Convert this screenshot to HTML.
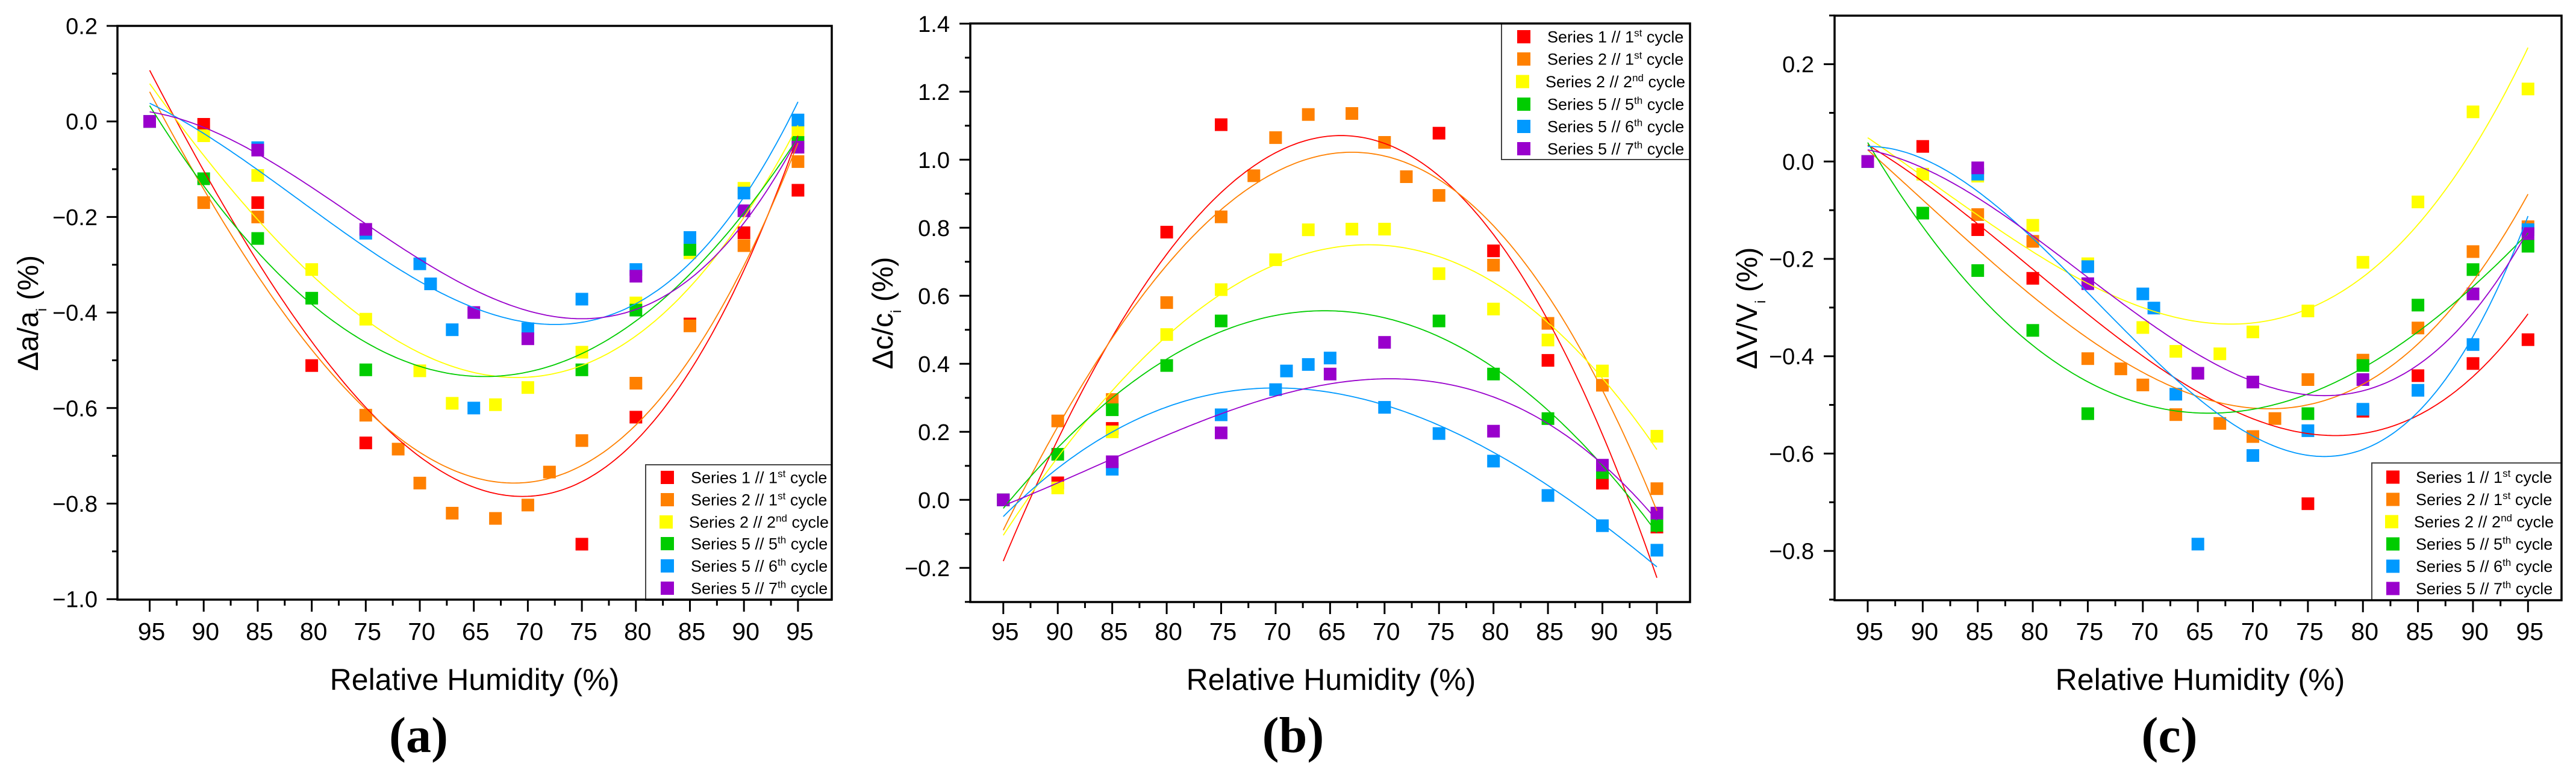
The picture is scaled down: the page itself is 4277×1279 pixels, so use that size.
<!DOCTYPE html>
<html><head><meta charset="utf-8">
<style>
html,body{margin:0;padding:0;background:#fff;}
svg{display:block;}
text{font-family:"Liberation Sans",sans-serif;fill:#000;}
.yt{font-size:38px;text-anchor:end;}
.xt{font-size:41px;text-anchor:middle;}
.ttl{font-size:50px;text-anchor:middle;}
.yl{font-size:48px;text-anchor:middle;}
.lg{font-size:27px;}
.cap{font-family:"Liberation Serif",serif;font-weight:bold;font-size:84px;text-anchor:middle;}
</style></head>
<body>
<svg id="g" width="4277" height="1279" viewBox="0 0 4277 1279" xmlns="http://www.w3.org/2000/svg">
<rect x="0" y="0" width="4277" height="1279" fill="#fff"/>
<g id="plots"></g>
<g id="legends">
<rect x="1072" y="772" width="309" height="225" fill="#fff" stroke="#444" stroke-width="2"/>
<rect x="2493" y="39" width="313" height="226" fill="#fff" stroke="#444" stroke-width="2"/>
<rect x="3938" y="769" width="315" height="228" fill="#fff" stroke="#444" stroke-width="2"/>
</g>
<g id="axes"></g>

<!-- Panel a text -->
<text class="yt" x="162" y="56.5">0.2</text>
<text class="yt" x="162" y="215.2">0.0</text>
<text class="yt" x="162" y="373.9">−0.2</text>
<text class="yt" x="162" y="532.6">−0.4</text>
<text class="yt" x="162" y="691.3">−0.6</text>
<text class="yt" x="162" y="850">−0.8</text>
<text class="yt" x="162" y="1008.7">−1.0</text>
<text class="xt" x="251.5" y="1063">95</text>
<text class="xt" x="341.2" y="1063">90</text>
<text class="xt" x="430.9" y="1063">85</text>
<text class="xt" x="520.6" y="1063">80</text>
<text class="xt" x="610.3" y="1063">75</text>
<text class="xt" x="700" y="1063">70</text>
<text class="xt" x="789.7" y="1063">65</text>
<text class="xt" x="879.4" y="1063">70</text>
<text class="xt" x="969.1" y="1063">75</text>
<text class="xt" x="1058.8" y="1063">80</text>
<text class="xt" x="1148.5" y="1063">85</text>
<text class="xt" x="1238.2" y="1063">90</text>
<text class="xt" x="1327.9" y="1063">95</text>
<text class="ttl" x="788" y="1146">Relative Humidity (%)</text>
<text class="yl" transform="translate(63,520) rotate(-90)">Δa/a<tspan font-size="24" dy="14">i</tspan><tspan dy="-14"> (%)</tspan></text>
<text class="cap" x="695" y="1249">(a)</text>

<!-- Panel b text -->
<text class="yt" x="1577" y="52.8">1.4</text>
<text class="yt" x="1577" y="165.8">1.2</text>
<text class="yt" x="1577" y="278.8">1.0</text>
<text class="yt" x="1577" y="391.8">0.8</text>
<text class="yt" x="1577" y="504.8">0.6</text>
<text class="yt" x="1577" y="617.8">0.4</text>
<text class="yt" x="1577" y="730.8">0.2</text>
<text class="yt" x="1577" y="843.8">0.0</text>
<text class="yt" x="1577" y="956.8">−0.2</text>
<text class="xt" x="1668.8" y="1063">95</text>
<text class="xt" x="1759.2" y="1063">90</text>
<text class="xt" x="1849.7" y="1063">85</text>
<text class="xt" x="1940.1" y="1063">80</text>
<text class="xt" x="2030.5" y="1063">75</text>
<text class="xt" x="2120.9" y="1063">70</text>
<text class="xt" x="2211.4" y="1063">65</text>
<text class="xt" x="2301.8" y="1063">70</text>
<text class="xt" x="2392.2" y="1063">75</text>
<text class="xt" x="2482.7" y="1063">80</text>
<text class="xt" x="2573.1" y="1063">85</text>
<text class="xt" x="2663.5" y="1063">90</text>
<text class="xt" x="2754" y="1063">95</text>
<text class="ttl" x="2210" y="1146">Relative Humidity (%)</text>
<text class="yl" transform="translate(1482,520) rotate(-90)">Δc/c<tspan font-size="24" dy="14">i</tspan><tspan dy="-14"> (%)</tspan></text>
<text class="cap" x="2147" y="1249">(b)</text>

<!-- Panel c text -->
<text class="yt" x="3012" y="120.1">0.2</text>
<text class="yt" x="3012" y="281.8">0.0</text>
<text class="yt" x="3012" y="443.5">−0.2</text>
<text class="yt" x="3012" y="605.2">−0.4</text>
<text class="yt" x="3012" y="766.9">−0.6</text>
<text class="yt" x="3012" y="928.6">−0.8</text>
<text class="xt" x="3104" y="1063">95</text>
<text class="xt" x="3195.4" y="1063">90</text>
<text class="xt" x="3286.7" y="1063">85</text>
<text class="xt" x="3378.1" y="1063">80</text>
<text class="xt" x="3469.4" y="1063">75</text>
<text class="xt" x="3560.8" y="1063">70</text>
<text class="xt" x="3652.2" y="1063">65</text>
<text class="xt" x="3743.5" y="1063">70</text>
<text class="xt" x="3834.9" y="1063">75</text>
<text class="xt" x="3926.2" y="1063">80</text>
<text class="xt" x="4017.6" y="1063">85</text>
<text class="xt" x="4109" y="1063">90</text>
<text class="xt" x="4200.3" y="1063">95</text>
<text class="ttl" x="3653" y="1146">Relative Humidity (%)</text>
<text class="yl" transform="translate(2917,512) rotate(-90)">ΔV/V<tspan font-size="24" dy="14">i</tspan><tspan dy="-14"> (%)</tspan></text>
<text class="cap" x="3602" y="1249">(c)</text>

<!-- Legend a -->
<rect x="1097" y="782" width="22" height="22" fill="#ff0000"/>
<rect x="1097" y="819" width="22" height="22" fill="#ff8000"/>
<rect x="1095" y="856" width="22" height="22" fill="#ffff00"/>
<rect x="1097" y="892" width="22" height="22" fill="#00cc00"/>
<rect x="1097" y="929" width="22" height="22" fill="#0099ff"/>
<rect x="1097" y="966" width="22" height="22" fill="#9900cc"/>
<text class="lg" x="1147" y="802.5">Series 1 // 1<tspan font-size="17" dy="-10">st</tspan><tspan dy="10"> cycle</tspan></text>
<text class="lg" x="1147" y="839.5">Series 2 // 1<tspan font-size="17" dy="-10">st</tspan><tspan dy="10"> cycle</tspan></text>
<text class="lg" x="1144" y="876.5">Series 2 // 2<tspan font-size="17" dy="-10">nd</tspan><tspan dy="10"> cycle</tspan></text>
<text class="lg" x="1147" y="912.5">Series 5 // 5<tspan font-size="17" dy="-10">th</tspan><tspan dy="10"> cycle</tspan></text>
<text class="lg" x="1147" y="949.5">Series 5 // 6<tspan font-size="17" dy="-10">th</tspan><tspan dy="10"> cycle</tspan></text>
<text class="lg" x="1147" y="986.5">Series 5 // 7<tspan font-size="17" dy="-10">th</tspan><tspan dy="10"> cycle</tspan></text>

<!-- Legend b -->
<rect x="2519" y="50" width="22" height="22" fill="#ff0000"/>
<rect x="2519" y="87" width="22" height="22" fill="#ff8000"/>
<rect x="2517" y="124.5" width="22" height="22" fill="#ffff00"/>
<rect x="2519" y="162" width="22" height="22" fill="#00cc00"/>
<rect x="2519" y="199" width="22" height="22" fill="#0099ff"/>
<rect x="2519" y="236" width="22" height="22" fill="#9900cc"/>
<text class="lg" x="2569" y="70.5">Series 1 // 1<tspan font-size="17" dy="-10">st</tspan><tspan dy="10"> cycle</tspan></text>
<text class="lg" x="2569" y="107.5">Series 2 // 1<tspan font-size="17" dy="-10">st</tspan><tspan dy="10"> cycle</tspan></text>
<text class="lg" x="2566" y="145">Series 2 // 2<tspan font-size="17" dy="-10">nd</tspan><tspan dy="10"> cycle</tspan></text>
<text class="lg" x="2569" y="182.5">Series 5 // 5<tspan font-size="17" dy="-10">th</tspan><tspan dy="10"> cycle</tspan></text>
<text class="lg" x="2569" y="219.5">Series 5 // 6<tspan font-size="17" dy="-10">th</tspan><tspan dy="10"> cycle</tspan></text>
<text class="lg" x="2569" y="256.5">Series 5 // 7<tspan font-size="17" dy="-10">th</tspan><tspan dy="10"> cycle</tspan></text>

<!-- Legend c -->
<rect x="3962" y="781.5" width="22" height="22" fill="#ff0000"/>
<rect x="3962" y="818.5" width="22" height="22" fill="#ff8000"/>
<rect x="3960" y="855.5" width="22" height="22" fill="#ffff00"/>
<rect x="3962" y="892.5" width="22" height="22" fill="#00cc00"/>
<rect x="3962" y="929.5" width="22" height="22" fill="#0099ff"/>
<rect x="3962" y="966.5" width="22" height="22" fill="#9900cc"/>
<text class="lg" x="4011" y="802">Series 1 // 1<tspan font-size="17" dy="-10">st</tspan><tspan dy="10"> cycle</tspan></text>
<text class="lg" x="4011" y="839">Series 2 // 1<tspan font-size="17" dy="-10">st</tspan><tspan dy="10"> cycle</tspan></text>
<text class="lg" x="4008" y="876">Series 2 // 2<tspan font-size="17" dy="-10">nd</tspan><tspan dy="10"> cycle</tspan></text>
<text class="lg" x="4011" y="913">Series 5 // 5<tspan font-size="17" dy="-10">th</tspan><tspan dy="10"> cycle</tspan></text>
<text class="lg" x="4011" y="950">Series 5 // 6<tspan font-size="17" dy="-10">th</tspan><tspan dy="10"> cycle</tspan></text>
<text class="lg" x="4011" y="987">Series 5 // 7<tspan font-size="17" dy="-10">th</tspan><tspan dy="10"> cycle</tspan></text>
</svg>
<script>
(function(){
var NS="http://www.w3.org/2000/svg";
var plots=document.getElementById('plots'), axes=document.getElementById('axes');
var cols=['#ff0000','#ff8000','#ffff00','#00cc00','#0099ff','#9900cc'];
function el(p,tag,a){var e=document.createElementNS(NS,tag);for(var k in a)e.setAttribute(k,a[k]);p.appendChild(e);return e;}
function cubic(s,m,v,e){var b=((e-v)/((12-m)*(12-m))-(s-v)/(m*m))/12;var a=(s-v)/(m*m)+b*m;return function(x){var d=x-m;return v+d*d*(a+b*d);};}
var P=[
{x0:248.5,dx:89.7,y0:201.7,sy:793.5,L:195,R:1381,T:43,B:996,
 ymaj:[0.2,0,-0.2,-0.4,-0.6,-0.8,-1.0],ymin:[0.1,-0.1,-0.3,-0.5,-0.7,-0.9],
 data:[
 [[0,0],[1,-0.006],[2,-0.17],[3,-0.511],[4,-0.673],[8,-0.885],[9,-0.619],[10,-0.424],[11,-0.233],[12,-0.144]],
 [[0,0],[1,-0.17],[2,-0.2],[4,-0.615],[4.6,-0.686],[5,-0.757],[5.6,-0.82],[6.4,-0.831],[7,-0.803],[7.4,-0.734],[8,-0.668],[9,-0.548],[10,-0.428],[11,-0.26],[12,-0.084]],
 [[0,0],[1,-0.03],[2,-0.113],[3,-0.31],[4,-0.414],[5,-0.522],[5.6,-0.59],[6.4,-0.593],[7,-0.557],[8,-0.483],[9,-0.38],[10,-0.275],[11,-0.14],[12,-0.02]],
 [[0,0],[1,-0.12],[2,-0.245],[3,-0.37],[4,-0.52],[8,-0.52],[9,-0.395],[10,-0.268],[12,-0.044]],
 [[0,0],[2,-0.055],[4,-0.234],[5,-0.298],[5.2,-0.34],[5.6,-0.436],[6,-0.60],[7,-0.434],[8,-0.372],[9,-0.31],[10,-0.243],[11,-0.15],[12,0.003]],
 [[0,0],[2,-0.06],[4,-0.226],[6,-0.40],[7,-0.455],[9,-0.324],[11,-0.187],[12,-0.054]]
 ],
 curves:[[0.107,6.9,-0.785,-0.03],[0.062,6.74,-0.757,-0.045],[0.079,6.8,-0.536,-0.008],[0.033,6.2,-0.534,-0.034],[0.038,7.5,-0.425,0.041],[0.02,8.0,-0.413,-0.034]]
},
{x0:1665.8,dx:90.43,y0:830.3,sy:565,L:1611,R:2806,T:39,B:1000,
 ymaj:[1.4,1.2,1.0,0.8,0.6,0.4,0.2,0,-0.2],ymin:[1.3,1.1,0.9,0.7,0.5,0.3,0.1,-0.1,-0.3],
 data:[
 [[0,0],[1,0.05],[2,0.21],[3,0.787],[4,1.103],[8,1.078],[9,0.732],[10,0.41],[11,0.049],[12,-0.08]],
 [[0,0],[1,0.232],[2,0.295],[3,0.58],[4,0.832],[4.6,0.953],[5,1.065],[5.6,1.133],[6.4,1.136],[7,1.051],[7.4,0.95],[8,0.895],[9,0.69],[10,0.519],[11,0.337],[12,0.033]],
 [[0,0],[1,0.035],[2,0.2],[3,0.486],[4,0.618],[5,0.706],[5.6,0.794],[6.4,0.796],[7,0.796],[8,0.665],[9,0.561],[10,0.47],[11,0.379],[12,0.187]],
 [[0,0],[1,0.134],[2,0.265],[3,0.395],[4,0.526],[8,0.526],[9,0.37],[10,0.239],[11,0.08],[12,-0.075]],
 [[0,0],[2,0.09],[4,0.25],[5,0.324],[5.2,0.379],[5.6,0.398],[6,0.417],[7,0.272],[8,0.195],[9,0.114],[10,0.013],[11,-0.076],[12,-0.148]],
 [[0,0],[2,0.112],[4,0.197],[6,0.37],[7,0.463],[9,0.202],[11,0.102],[12,-0.039]]
 ],
 curves:[[-0.18,6.2,1.071,-0.229],[-0.089,6.4,1.022,-0.032],[-0.104,6.7,0.75,0.148],[-0.025,5.9,0.556,-0.097],[-0.049,5.0,0.329,-0.197],[-0.017,7.1,0.356,-0.06]]
},
{x0:3101,dx:91.36,y0:268.3,sy:808.5,L:3046,R:4253,T:26,B:997,
 ymaj:[0.2,0,-0.2,-0.4,-0.6,-0.8],ymin:[0.3,0.1,-0.1,-0.3,-0.5,-0.7,-0.9],
 data:[
 [[0,0],[1,0.031],[2,-0.14],[3,-0.24],[8,-0.703],[9,-0.513],[10,-0.44],[11,-0.415],[12,-0.366]],
 [[0,0],[2,-0.109],[3,-0.164],[4,-0.405],[4.6,-0.426],[5,-0.459],[5.6,-0.52],[6.4,-0.538],[7,-0.565],[7.4,-0.528],[8,-0.448],[9,-0.408],[10,-0.342],[11,-0.185],[12,-0.134]],
 [[0,0],[1,-0.026],[2,-0.03],[3,-0.131],[4,-0.21],[5,-0.341],[5.6,-0.39],[6.4,-0.395],[7,-0.35],[8,-0.307],[9,-0.207],[10,-0.083],[11,0.102],[12,0.149]],
 [[0,0],[1,-0.106],[2,-0.224],[3,-0.347],[4,-0.518],[8,-0.518],[9,-0.419],[10,-0.295],[11,-0.222],[12,-0.174]],
 [[0,0],[2,-0.026],[4,-0.216],[5,-0.272],[5.2,-0.301],[5.6,-0.478],[6,-0.786],[7,-0.604],[8,-0.553],[9,-0.509],[10,-0.47],[11,-0.376],[12,-0.14]],
 [[0,0],[2,-0.013],[4,-0.251],[6,-0.435],[7,-0.453],[9,-0.448],[11,-0.272],[12,-0.148]]
 ],
 curves:[[0.034,8.5,-0.563,-0.313],[0.024,7.3,-0.508,-0.067],[0.049,6.6,-0.334,0.234],[0.039,6.2,-0.517,-0.147],[0.031,8.3,-0.606,-0.112],[0.024,8.3,-0.481,-0.142]]
}];
P.forEach(function(p){
  function X(i){return p.x0+p.dx*i;}
  function Y(v){return p.y0-p.sy*v;}
  // markers
  p.data.forEach(function(ser,si){
    ser.forEach(function(pt){
      el(plots,'rect',{x:(X(pt[0])-10.5).toFixed(1),y:(Y(pt[1])-10.5).toFixed(1),width:21,height:21,fill:cols[si]});
    });
  });
  // curves
  p.curves.forEach(function(c,si){
    var f=cubic(c[0],c[1],c[2],c[3]);var d='';
    for(var k=0;k<=240;k++){var x=k*0.05;d+=(k?'L':'M')+X(x).toFixed(1)+' '+Y(f(x)).toFixed(1);}
    el(plots,'path',{d:d,fill:'none',stroke:cols[si],'stroke-width':1.8});
  });
  // frame
  el(axes,'rect',{x:p.L,y:p.T,width:p.R-p.L,height:p.B-p.T,fill:'none',stroke:'#000','stroke-width':3.5});
  p.ymaj.forEach(function(v){var y=Y(v);el(axes,'line',{x1:p.L-18,x2:p.L,y1:y,y2:y,stroke:'#000','stroke-width':3});});
  p.ymin.forEach(function(v){var y=Y(v);el(axes,'line',{x1:p.L-9,x2:p.L,y1:y,y2:y,stroke:'#000','stroke-width':3});});
  for(var i=0;i<=12;i++){var x=X(i);el(axes,'line',{x1:x,x2:x,y1:p.B,y2:p.B+20,stroke:'#000','stroke-width':3});
    if(i<12){var xm=X(i+0.5);el(axes,'line',{x1:xm,x2:xm,y1:p.B,y2:p.B+10,stroke:'#000','stroke-width':3});}}
});
})();
</script>
</body></html>
